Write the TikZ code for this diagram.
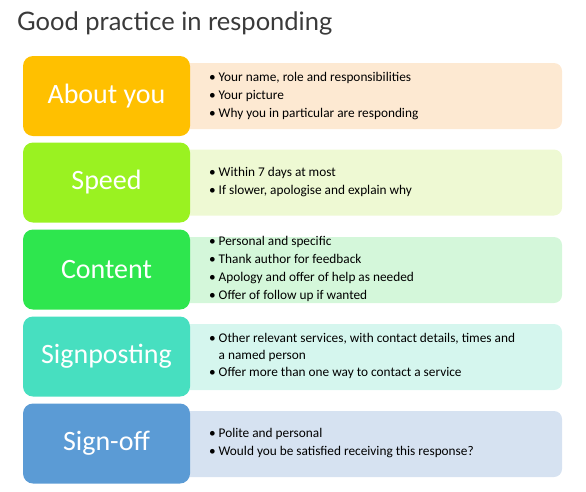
\documentclass[tikz,border=0pt]{standalone}
\usepackage{fontspec}
\setmainfont{Carlito}
\newfontfamily\titlefont{Lato}
\definecolor{titlegray}{HTML}{3A3A3A}
\definecolor{c1}{HTML}{FFC000}\definecolor{p1}{HTML}{FDE9D2}
\definecolor{c2}{HTML}{9AF221}\definecolor{p2}{HTML}{EEF9D3}
\definecolor{c3}{HTML}{2EE64E}\definecolor{p3}{HTML}{D4F7DA}
\definecolor{c4}{HTML}{47DFC0}\definecolor{p4}{HTML}{D5F6EE}
\definecolor{c5}{HTML}{5B9BD5}\definecolor{p5}{HTML}{D6E2F1}
\newcommand{\bul}{\makebox[9.5pt][l]{\textbullet}}
\newcommand{\bulind}{\hspace*{9.5pt}}
\tikzset{
  labelbox/.style={rounded corners=10pt, minimum width=167pt, minimum height=80pt,
    text=white, font={\fontsize{28}{30}\selectfont}, inner sep=0pt},
  panel/.style={rounded corners=8pt, minimum width=392pt, minimum height=66pt, inner sep=0pt},
  bullets/.style={anchor=west, align=left, inner sep=0pt, text=black,
    font={\fontsize{13.3}{18}\selectfont}}
}
\begin{document}
\begin{tikzpicture}[x=1pt,y=-1pt]
\useasboundingbox (0,0) rectangle (586,491);
\node[anchor=west, inner sep=0pt, text=titlegray, font={\titlefont\fontsize{25.5}{28}\selectfont}] (title) at (17,23) {Good practice in responding};

\node[panel, fill=p1] (p1) at (366,96) {};
\node[labelbox, fill=c1] (l1) at (106.5,96) {About you};
\node[bullets] (t1) at (209,96) {\bul Your name, role and responsibilities\\ \bul Your picture\\ \bul Why you in particular are responding};

\node[panel, fill=p2] (p2) at (366,182.5) {};
\node[labelbox, fill=c2] (l2) at (106.5,182.5) {Speed};
\node[bullets] (t2) at (209,182) {\bul Within 7 days at most\\ \bul If slower, apologise and explain why};

\node[panel, fill=p3] (p3) at (366,270) {};
\node[labelbox, fill=c3] (l3) at (106.5,269.5) {Content};
\node[bullets] (t3) at (209,269) {\bul Personal and specific\\ \bul Thank author for feedback\\ \bul Apology and offer of help as needed\\ \bul Offer of follow up if wanted};

\node[panel, fill=p4] (p4) at (366,357) {};
\node[labelbox, fill=c4] (l4) at (106.5,356.5) {Signposting};
\node[bullets, font={\fontsize{13.3}{17}\selectfont}] (t4) at (209,356) {\bul Other relevant services, with contact details, times and\\ \bulind a named person\\ \bul Offer more than one way to contact a service};

\node[panel, fill=p5] (p5) at (366,444) {};
\node[labelbox, fill=c5] (l5) at (106.5,443.5) {Sign-off};
\node[bullets] (t5) at (209,443) {\bul Polite and personal\\ \bul Would you be satisfied receiving this response?};
\end{tikzpicture}
\end{document}
